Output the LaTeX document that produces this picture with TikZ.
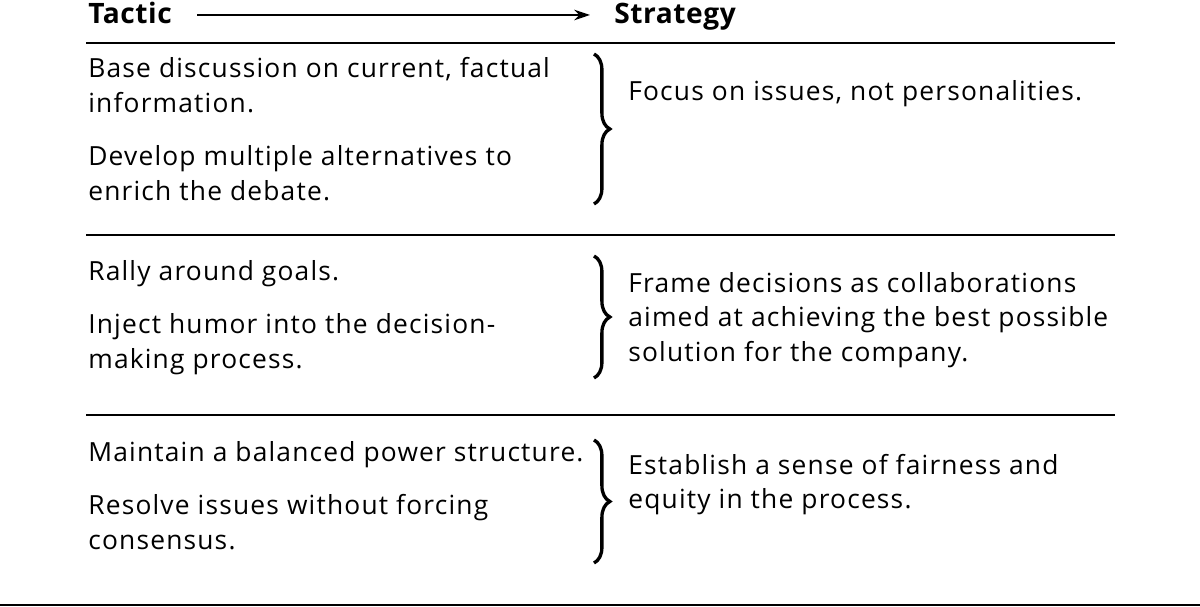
\documentclass[tikz,border=0pt]{standalone}
\usepackage{fontspec}
\setmainfont{Open Sans}[LetterSpace=4.5]
\usetikzlibrary{positioning,decorations.pathreplacing,arrows.meta}

\begin{document}
\begin{tikzpicture}[x=0.02cm,y=-0.02cm]
\tikzstyle{txt}=[anchor=base west, inner sep=0pt, align=left, font=\fontsize{15}{19.92}\selectfont]
\tikzstyle{head}=[anchor=base west, inner sep=0pt, font=\fontsize{16}{18}\selectfont\bfseries\addfontfeature{LetterSpace=2}]
\tikzstyle{rule}=[line width=1.2pt]
\tikzstyle{brc}=[decorate, decoration={brace, amplitude=9pt}, line width=1.9pt]
\useasboundingbox (0,0) rectangle (1200,607);

% header
\node[head] (tac) at (88,24) {Tactic};
\node[head] (str) at (614,24) {Strategy};
\coordinate (a1) at (197,15);
\coordinate (a2) at (590,15);
\draw[line width=1.2pt, -{Stealth[length=9pt,width=6pt]}] (a1) -- (a2);

% rules
\coordinate (l0) at (86,43);   \coordinate (r0) at (1115,43);
\coordinate (l1) at (86,235);  \coordinate (r1) at (1115,235);
\coordinate (l2) at (86,415);  \coordinate (r2) at (1115,415);
\coordinate (l3) at (0,605);   \coordinate (r3) at (1200,605);
\foreach \i/\j in {l0/r0,l1/r1,l2/r2,l3/r3}{\draw[rule] (\i) -- (\j);}

% row 1 (multi-line nodes sit on their last baseline)
\node[txt] (t1) at (88,112.5) {Base discussion on current, factual\\information.};
\node[txt] (t2) at (88,201) {Develop multiple alternatives to\\enrich the debate.};
\node[txt] (s1) at (628,101) {Focus on issues, not personalities.};
\coordinate (b1t) at (594,54);
\coordinate (b1b) at (594,204);

% row 2
\node[txt] (t3) at (88,281) {Rally around goals.};
\node[txt] (t4) at (88,369) {Inject humor into the decision-\\making process.};
\node[txt] (s2) at (628,362) {Frame decisions as collaborations\\aimed at achieving the best possible\\solution for the company.};
\coordinate (b2t) at (594,256);
\coordinate (b2b) at (594,378);

% row 3
\node[txt] (t5) at (88,462) {Maintain a balanced power structure.};
\node[txt] (t6) at (88,549) {Resolve issues without forcing\\consensus.};
\node[txt] (s3) at (628,509) {Establish a sense of fairness and\\equity in the process.};
\coordinate (b3t) at (594,440);
\coordinate (b3b) at (594,563);

\foreach \i/\j in {b1t/b1b,b2t/b2b,b3t/b3b}{\draw[brc] (\i) -- (\j);}
\end{tikzpicture}
\end{document}
